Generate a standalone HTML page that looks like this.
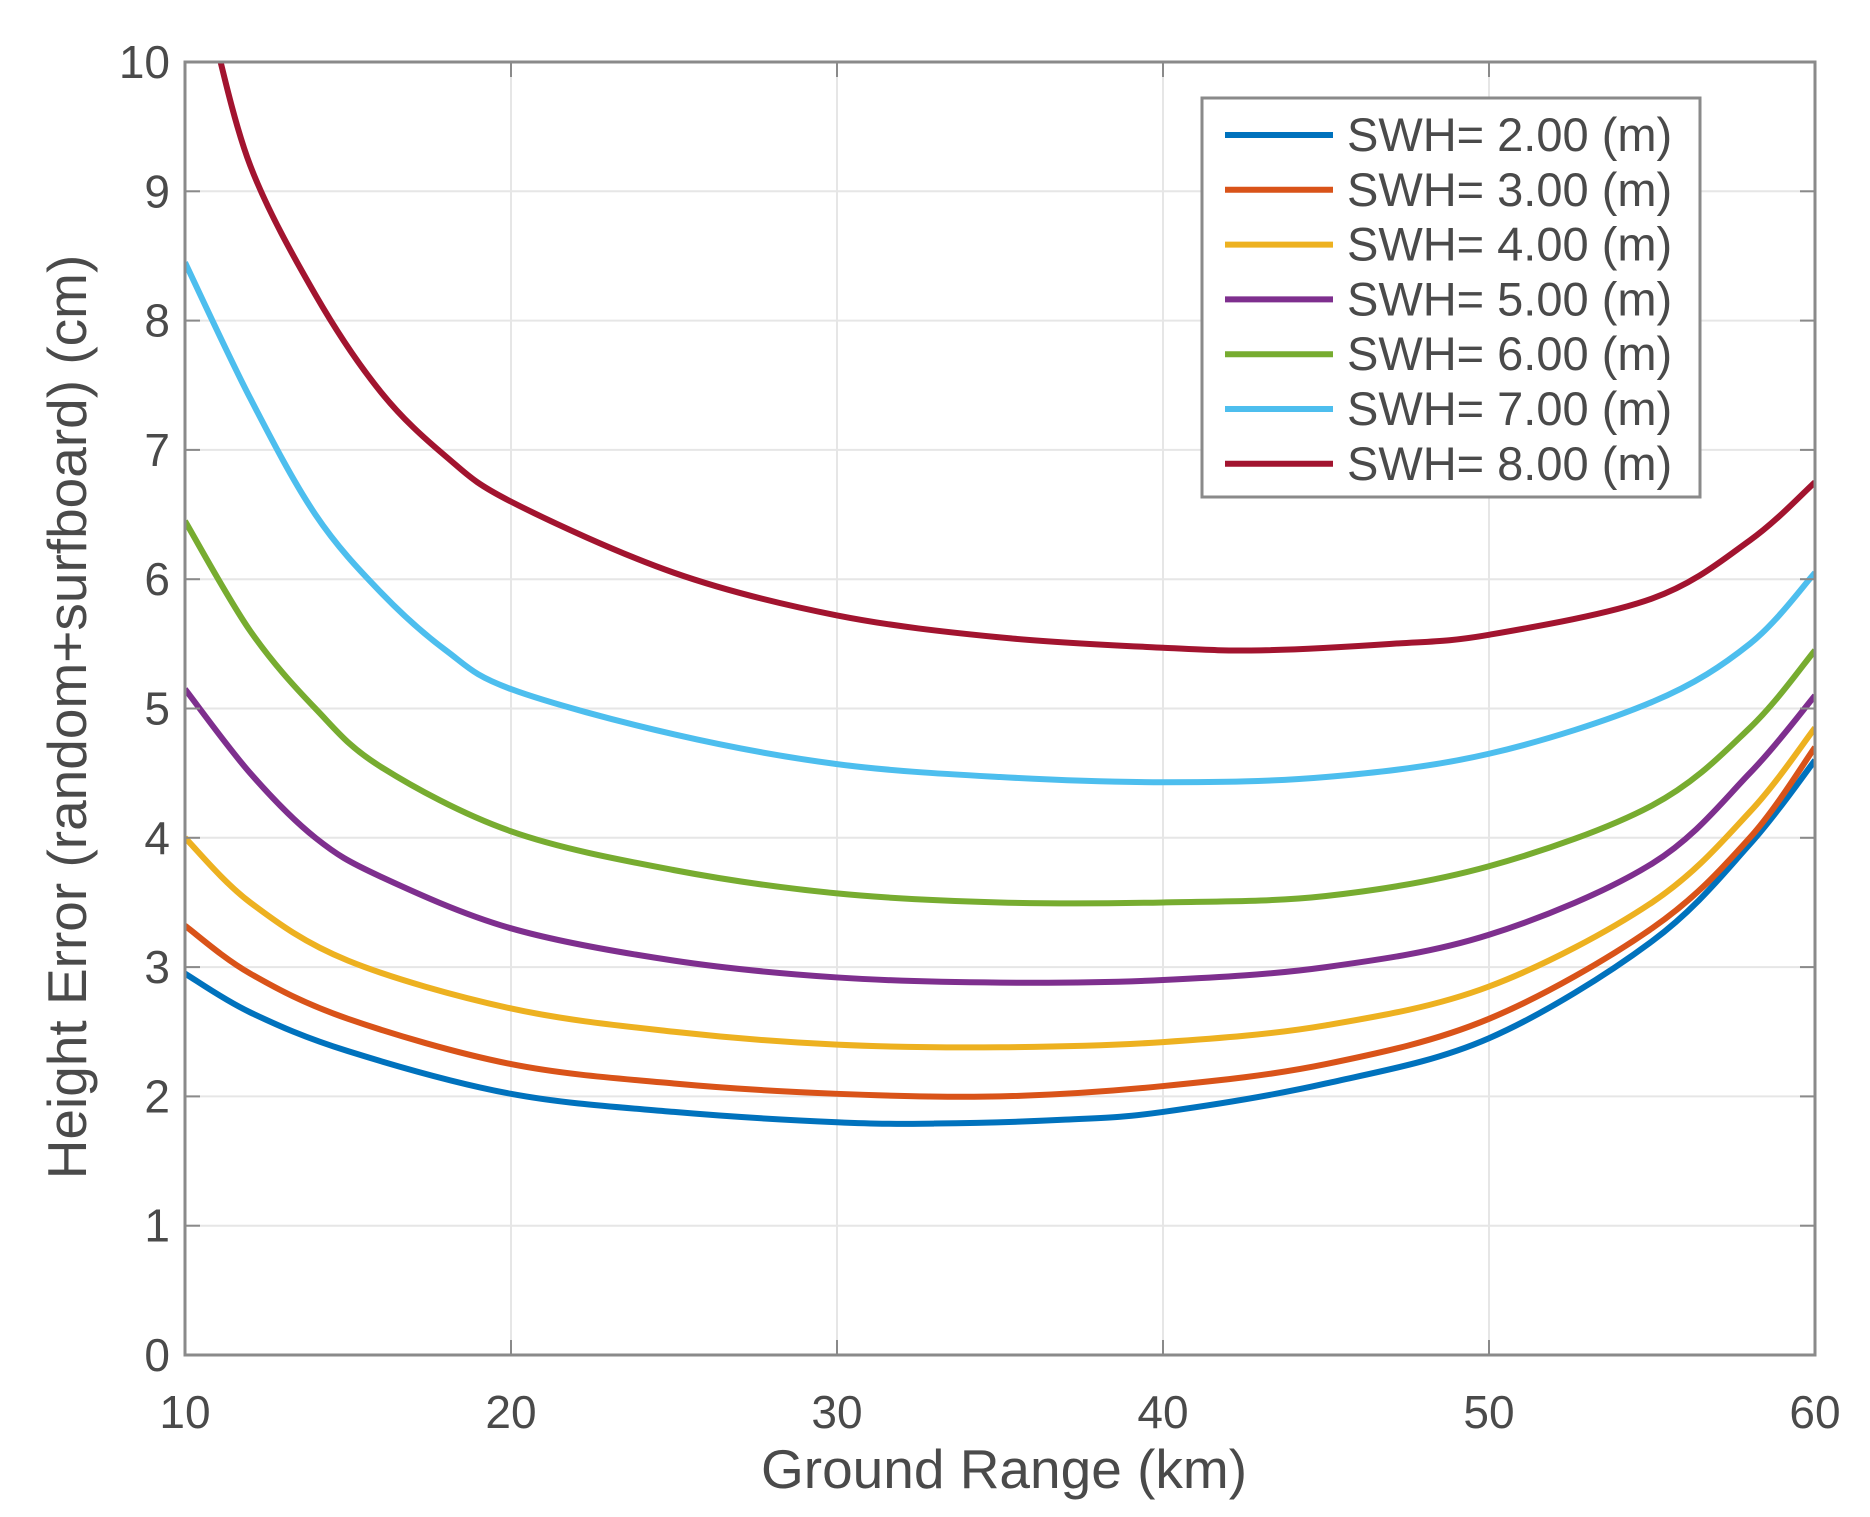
<!DOCTYPE html>
<html><head><meta charset="utf-8"><style>
html,body{margin:0;padding:0;background:#fff}
svg{display:block}
text{font-family:"Liberation Sans",sans-serif;fill:#4a4a4a}
</style></head><body>
<svg id="s" width="1870" height="1517" xmlns="http://www.w3.org/2000/svg">
<defs><clipPath id="c"><rect x="185" y="62" width="1630" height="1293"/></clipPath></defs>
<g id="grid" stroke="#e6e6e6" stroke-width="2"></g>
<g id="curves" clip-path="url(#c)" fill="none" stroke-width="6" stroke-linejoin="round"></g>
<rect x="185" y="62" width="1630" height="1293" fill="none" stroke="#8a8a8a" stroke-width="3"/>
<g id="ticks" stroke="#8a8a8a" stroke-width="2"></g>
<g id="labels" font-size="46"></g>
<text x="1004" y="1488" font-size="55" text-anchor="middle">Ground Range (km)</text>
<text transform="translate(86,717) rotate(-90)" font-size="55" text-anchor="middle">Height Error (random+surfboard) (cm)</text>
<rect x="1202" y="98" width="498" height="399" fill="#fff" stroke="#8a8a8a" stroke-width="3"/>
<g id="leg" font-size="47"></g>
</svg>
<script>
const X=v=>185+(v-10)*32.6, Y=v=>1355-v*129.3;
const ns="http://www.w3.org/2000/svg";
function el(p,t,a,txt){const e=document.createElementNS(ns,t);for(const k in a)e.setAttribute(k,a[k]);if(txt!==undefined)e.textContent=txt;document.getElementById(p).appendChild(e);}
for(let x=10;x<=60;x+=10){el('grid','line',{x1:X(x),x2:X(x),y1:62,y2:1355});el('ticks','line',{x1:X(x),x2:X(x),y1:1355,y2:1340});el('ticks','line',{x1:X(x),x2:X(x),y1:62,y2:77});el('labels','text',{x:X(x),y:1428,'text-anchor':'middle'},x);}
for(let y=0;y<=10;y++){el('grid','line',{x1:185,x2:1815,y1:Y(y),y2:Y(y)});el('ticks','line',{x1:185,x2:200,y1:Y(y),y2:Y(y)});el('ticks','line',{x1:1800,x2:1815,y1:Y(y),y2:Y(y)});el('labels','text',{x:170,y:Y(y)+16,'text-anchor':'end'},y);}
const S=[
["#0072BD",[[10,2.95],[12,2.65],[15,2.35],[20,2.02],[25,1.88],[30,1.8],[33,1.79],[37,1.82],[40,1.88],[45,2.1],[50,2.45],[55,3.2],[58,3.95],[60,4.6]]],
["#D95319",[[10,3.32],[12,2.95],[15,2.6],[20,2.25],[25,2.1],[30,2.02],[35,2.0],[40,2.08],[45,2.25],[50,2.6],[55,3.3],[58,4.0],[60,4.7]]],
["#EDB120",[[10,4.0],[12,3.5],[15,3.05],[20,2.68],[25,2.5],[30,2.4],[35,2.38],[40,2.42],[45,2.55],[50,2.85],[55,3.5],[58,4.2],[60,4.85]]],
["#7E2F8E",[[10,5.15],[12,4.5],[14,4.0],[16,3.7],[20,3.3],[25,3.05],[30,2.92],[35,2.88],[40,2.9],[45,3.0],[50,3.25],[55,3.8],[58,4.5],[60,5.1]]],
["#77AC30",[[10,6.45],[12,5.6],[14,5.0],[16,4.55],[20,4.05],[25,3.75],[30,3.57],[35,3.5],[40,3.5],[45,3.55],[50,3.78],[55,4.25],[58,4.85],[60,5.45]]],
["#4DBEEE",[[10,8.45],[12,7.4],[14,6.5],[16,5.9],[18,5.45],[20,5.15],[25,4.8],[30,4.57],[35,4.47],[40,4.43],[45,4.47],[50,4.65],[55,5.05],[58,5.5],[60,6.05]]],
["#A2142F",[[10.8,10.3],[12,9.2],[14,8.2],[16,7.45],[18,6.95],[20,6.6],[25,6.05],[30,5.72],[35,5.55],[40,5.47],[43,5.45],[47,5.5],[50,5.57],[55,5.85],[58,6.3],[60,6.75]]]];
S.forEach(([c,d],i)=>{const p=d.map(([a,b])=>[X(a),Y(b)]);let s=`M${p[0]}`;
for(let k=0;k<p.length-1;k++){const p0=p[k-1]||p[k],p1=p[k],p2=p[k+1],p3=p[k+2]||p2;
s+=`C${p1[0]+(p2[0]-p0[0])/6},${p1[1]+(p2[1]-p0[1])/6} ${p2[0]-(p3[0]-p1[0])/6},${p2[1]-(p3[1]-p1[1])/6} ${p2[0]},${p2[1]}`;}
el('curves','path',{d:s,stroke:c});
const ly=135+i*54.8;el('leg','line',{x1:1225,x2:1333,y1:ly,y2:ly,stroke:c,'stroke-width':6});
el('leg','text',{x:1347,y:ly+16},`SWH= ${i+2}.00 (m)`);});
</script>
</body></html>
